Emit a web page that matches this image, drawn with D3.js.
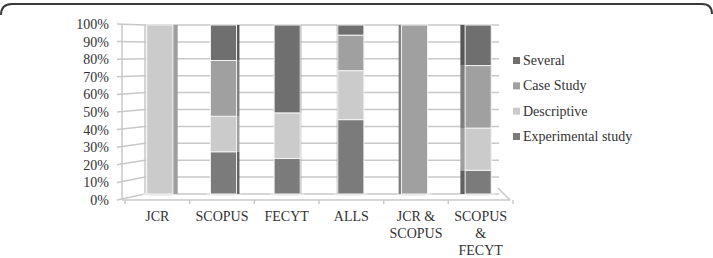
<!DOCTYPE html>
<html><head><meta charset="utf-8">
<script src="https://cdn.jsdelivr.net/npm/d3@7"></script>
<style>html,body{margin:0;padding:0;background:#fff;}svg{display:block;}svg text{font-family:"Liberation Serif","Tinos","DejaVu Serif",serif;}</style>
</head><body>
<script>
const categories = ["JCR","SCOPUS","FECYT","ALLS","JCR & SCOPUS","SCOPUS & FECYT"];
const categoryLines = [["JCR"],["SCOPUS"],["FECYT"],["ALLS"],["JCR &","SCOPUS"],["SCOPUS","&","FECYT"]];
const seriesNames = ["Experimental study","Descriptive","Case Study","Several"];
const experimental = [0,25,21,44,0,14];
const descriptive  = [100,21,27,29,0,25];
const caseStudy    = [0,33,0,21,100,37];
const several      = [0,21,52,6,0,24];
const yTicks = [0,10,20,30,40,50,60,70,80,90,100];
const colors = ["#7b7b7b","#cbcbcb","#a0a0a0","#6f6f6f"];

const W=713,H=258;
const svg=d3.select("body").append("svg").attr("width",W).attr("height",H);

svg.append("path").attr("d","M1,15 Q1,4 12,4 L702,4 Q712,4 712,14")
  .attr("fill","none").attr("stroke","#3a3a3a").attr("stroke-width",2);

const yBack=d3.scaleLinear().domain([0,100]).range([194,25]);
const yFront=d3.scaleLinear().domain([0,100]).range([200,24]);
const xFront=d3.scaleBand().domain(categories).range([125,513]);
const xBack=d3.scaleBand().domain(categories).range([128,510]).paddingInner(0.59).paddingOuter(0.295);
const backL=145, backR=499, frontL=122;

const grid="#c8c8c8";
svg.append("g").selectAll("line").data(yTicks).join("line")
  .attr("x1",backL).attr("x2",backR).attr("y1",d=>yBack(d)).attr("y2",d=>yBack(d))
  .attr("stroke",grid).attr("stroke-width",1.5);
svg.append("g").selectAll("line").data(yTicks).join("line")
  .attr("x1",frontL-5).attr("x2",backL).attr("y1",d=>yFront(d)).attr("y2",d=>yBack(d))
  .attr("stroke",grid).attr("stroke-width",1.5);
svg.append("line").attr("x1",frontL).attr("x2",frontL).attr("y1",yFront(100)).attr("y2",yFront(0)).attr("stroke",grid).attr("stroke-width",1.5);
svg.append("line").attr("x1",backL).attr("x2",backL).attr("y1",yBack(100)).attr("y2",yBack(0)).attr("stroke",grid).attr("stroke-width",1.5);
svg.append("line").attr("x1",frontL).attr("x2",510).attr("y1",yFront(0)).attr("y2",yFront(0)).attr("stroke",grid).attr("stroke-width",1.5);
svg.append("line").attr("x1",510).attr("x2",498).attr("y1",yFront(0)).attr("y2",188).attr("stroke",grid).attr("stroke-width",1.5);
const tickXs=categories.map(c=>xFront(c)).concat([xFront.range()[1]]);
svg.append("g").selectAll("line").data(tickXs).join("line")
  .attr("x1",d=>d).attr("x2",d=>d).attr("y1",yFront(0)).attr("y2",yFront(0)+4)
  .attr("stroke",grid).attr("stroke-width",1.5);

svg.append("g").selectAll("text").data(yTicks).join("text")
  .attr("x",109).attr("y",d=>yFront(d)).attr("dy","0.35em").attr("text-anchor","end")
  .attr("font-size",14).attr("fill","#333").text(d=>d+"%");

const table=categories.map((c,i)=>({cat:c,"Experimental study":experimental[i],"Descriptive":descriptive[i],"Case Study":caseStudy[i],"Several":several[i]}));
const stacked=d3.stack().keys(seriesNames)(table);
const vanish=320;
const bw=xBack.bandwidth();
svg.append("g").selectAll("ellipse").data(categories).join("ellipse")
  .attr("cx",c=>xBack(c)+bw/2).attr("cy",yBack(0)).attr("rx",bw/2+5).attr("ry",1.8)
  .attr("fill","#e6e6e6");
stacked.forEach((s,si)=>{
  const g=svg.append("g");
  s.forEach((d,i)=>{
    if(d[1]-d[0]<=0) return;
    const c=categories[i];
    const x0=xBack(c), cx=x0+bw/2;
    const side=(vanish-cx)*0.03;
    const yt=yBack(d[1]), yb=yBack(d[0]);
    const sideCol=d3.color(colors[si]).darker(0.7);
    if(Math.abs(side)>0.5){
      const sx= side>0 ? x0+bw : x0+side;
      g.append("rect").attr("x",sx).attr("y",yt).attr("width",Math.abs(side)).attr("height",yb-yt).attr("fill",sideCol);
    }
    g.append("rect").attr("x",x0).attr("y",yt).attr("width",bw).attr("height",yb-yt)
      .attr("fill",colors[si]).attr("stroke","#f2f2f2").attr("stroke-width",1);
  });
});

const xl=svg.append("g");
categories.forEach((c,i)=>{
  const cx=xFront(c)+xFront.bandwidth()/2;
  const t=xl.append("text").attr("x",cx).attr("y",221)
    .attr("text-anchor","middle").attr("font-size",14).attr("fill","#333");
  categoryLines[i].forEach((ln,j)=>t.append("tspan").attr("x",cx).attr("dy",j?17:0).text(ln));
});

const legendOrder=["Several","Case Study","Descriptive","Experimental study"];
const ly=d3.scalePoint().domain(legendOrder).range([60,136]);
const lg=svg.append("g");
legendOrder.forEach(n=>{
  const si=seriesNames.indexOf(n);
  lg.append("rect").attr("x",513).attr("y",ly(n)-3).attr("width",7).attr("height",7).attr("fill",colors[si]);
  lg.append("text").attr("x",523).attr("y",ly(n)).attr("dy","0.35em").attr("font-size",14).attr("fill","#333").text(n);
});
</script>
</body></html>
